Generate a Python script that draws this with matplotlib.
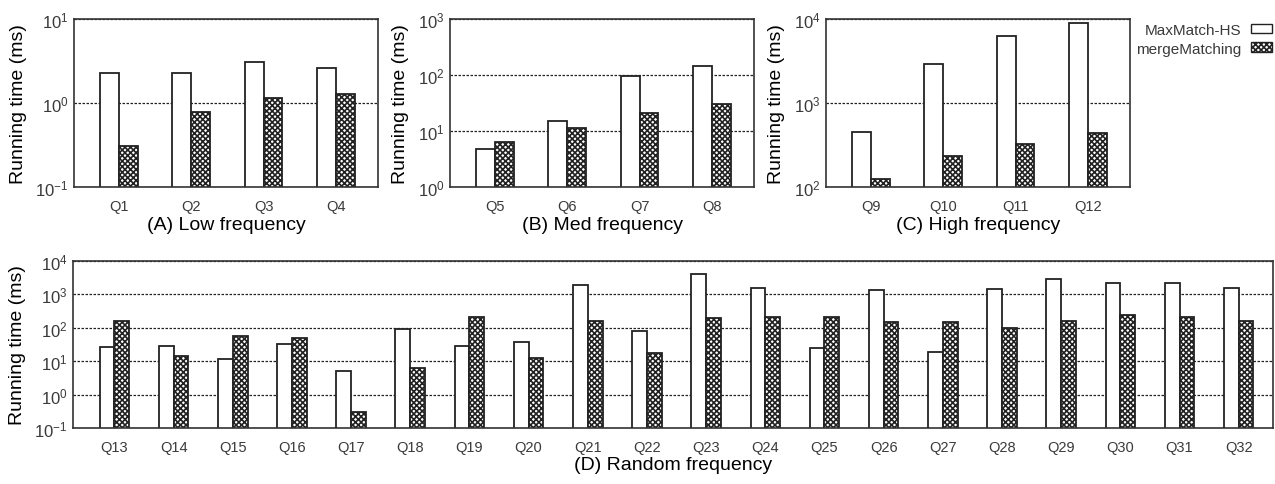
import numpy as np
import matplotlib
matplotlib.use("Agg")
import matplotlib.pyplot as plt
from matplotlib.patches import Patch
from matplotlib.ticker import LogLocator, NullLocator

plt.rcParams['font.family'] = ['Liberation Sans', 'DejaVu Sans']
plt.rcParams['hatch.linewidth'] = 1.2

# --- data (running time in ms) ---
low_q = ["Q1", "Q2", "Q3", "Q4"]
low_maxmatch = [2.27, 2.27, 3.08, 2.63]
low_merge = [0.305, 0.79, 1.15, 1.27]

med_q = ["Q5", "Q6", "Q7", "Q8"]
med_maxmatch = [4.7, 14.9, 97, 143]
med_merge = [6.3, 11.5, 21, 30.8]

high_q = ["Q9", "Q10", "Q11", "Q12"]
high_maxmatch = [452, 2940, 6320, 8890]
high_merge = [124, 236, 328, 436]

rand_q = ["Q%d" % i for i in range(13, 33)]
rand_maxmatch = [26, 27.9, 11.4, 33.5, 5.25, 93.8, 27.9, 36.7, 1925, 78,
                 4000, 1567, 25.5, 1334, 19.3, 1462, 2973, 2158, 2158, 1567]
rand_merge = [162, 14.4, 58, 49.4, 0.307, 6.44, 214, 12.2, 162, 17.6,
              195, 214, 214, 148, 148, 100, 162, 234, 209, 162]

W, H = 1275, 485
fig = plt.figure(figsize=(W / 100, H / 100), dpi=100)


def px_axes(left, top, right, bottom):
    return fig.add_axes([left / W, 1 - bottom / H, (right - left) / W, (bottom - top) / H])


def draw_panel(ax, cats, a, b, ylim, title, width=0.26, left_pad=0.62, right_pad=0.58, title_pad=2):
    x = np.arange(len(cats))
    ax.bar(x - width / 2, a, width, bottom=1e-9, color='white',
           edgecolor='#222222', linewidth=1.3, zorder=2)
    ax.bar(x + width / 2, b, width, bottom=1e-9, color='white', hatch='xxxxxx',
           edgecolor='#222222', linewidth=1.3, zorder=2)
    ax.set_yscale('log')
    ax.set_ylim(*ylim)
    ax.set_xlim(-left_pad, len(cats) - 1 + right_pad)
    ax.yaxis.set_major_locator(LogLocator(base=10, numticks=10))
    ax.yaxis.set_minor_locator(NullLocator())
    ax.set_xticks(x)
    ax.set_xticklabels(cats)
    ax.tick_params(axis='both', length=0, labelsize=10.5, labelcolor='#3a3a3a', pad=9)
    ax.tick_params(axis='y', pad=4, labelsize=12)
    ax.yaxis.grid(True, which='major', linestyle=(0, (2.0, 1.2)), color='#222222', linewidth=0.9)
    ax.set_axisbelow(True)
    for s in ax.spines.values():
        s.set_linewidth(1.2)
        s.set_color('#333333')
    ax.set_ylabel("Running time (ms)", fontsize=14, labelpad=6)
    ax.set_xlabel(title, fontsize=14, labelpad=title_pad)


ax_a = px_axes(74, 20, 378, 188)
draw_panel(ax_a, low_q, low_maxmatch, low_merge, (0.1, 10), "(A) Low frequency")
ax_b = px_axes(450, 20, 754, 188)
draw_panel(ax_b, med_q, med_maxmatch, med_merge, (1, 1000), "(B) Med frequency")
ax_c = px_axes(826, 20, 1130, 188)
draw_panel(ax_c, high_q, high_maxmatch, high_merge, (100, 10000), "(C) High frequency")
ax_d = px_axes(73, 262, 1273, 429)
draw_panel(ax_d, rand_q, rand_maxmatch, rand_merge, (0.1, 10000), "(D) Random frequency",
           width=0.25, left_pad=0.70, right_pad=0.58, title_pad=1)

handles = [Patch(facecolor='white', edgecolor='#222222', linewidth=1.0, label='MaxMatch-HS'),
           Patch(facecolor='white', edgecolor='#222222', linewidth=1.0, hatch='xxxxxx', label='mergeMatching')]
fig.legend(handles=handles, loc='upper right', bbox_to_anchor=(1272 / W, 1 - 24 / H),
           frameon=False, markerfirst=False, fontsize=11, handlelength=1.4, handleheight=0.6,
           handletextpad=0.6, labelspacing=0.3, borderaxespad=0, borderpad=0, labelcolor='#3a3a3a')

fig.savefig("out.png", dpi=100)
